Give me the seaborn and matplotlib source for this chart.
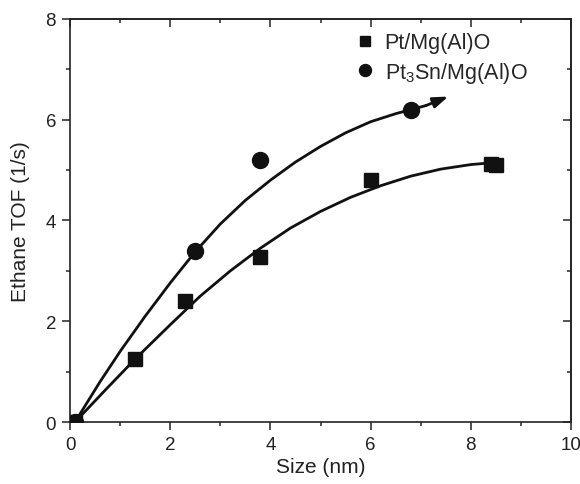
import matplotlib
matplotlib.use("Agg")
import matplotlib.pyplot as plt
import seaborn as sns
from matplotlib.ticker import MultipleLocator

# measured points
pt_size = [0.1, 1.3, 2.3, 3.8, 6.0, 8.4, 8.5]
pt_tof = [0.0, 1.25, 2.4, 3.27, 4.8, 5.12, 5.1]
pt3sn_size = [0.1, 2.5, 3.8, 6.8]
pt3sn_tof = [0.0, 3.4, 5.2, 6.2]

# fitted trend curves
pt_curve_x = [0.1, 0.7, 1.3, 2.0, 2.6, 3.2, 3.8, 4.4, 5.0, 5.6, 6.2, 6.8, 7.4, 8.0, 8.35]
pt_curve_y = [0.0, 0.63, 1.25, 1.93, 2.5, 3.0, 3.45, 3.85, 4.18, 4.46, 4.69, 4.88, 5.02, 5.11, 5.14]
pt3sn_curve_x = [0.1, 0.6, 1.0, 1.5, 2.0, 2.5, 3.0, 3.5, 4.0, 4.5, 5.0, 5.5, 6.0, 6.5, 6.8, 7.1]
pt3sn_curve_y = [0.0, 0.8, 1.4, 2.1, 2.76, 3.38, 3.93, 4.4, 4.8, 5.16, 5.47, 5.74, 5.96, 6.12, 6.2, 6.28]
arrow_start = (7.1, 6.28)
arrow_end = (7.55, 6.46)

labels = ["Pt/Mg(Al)O", "Pt$_3$Sn/Mg(Al)O"]
x_ticks = [0, 2, 4, 6, 8, 10]
y_ticks = [0, 2, 4, 6, 8]

sns.set_style("ticks")
plt.rcParams["font.family"] = ["Liberation Sans", "DejaVu Sans"]
plt.rcParams["mathtext.default"] = "regular"

fig = plt.figure(figsize=(5.8, 4.85), dpi=100)
ax = fig.add_axes([0.1207, 0.1278, 0.8638, 0.831])

col = "#111111"
sns.lineplot(x=pt_curve_x, y=pt_curve_y, ax=ax, color=col, lw=2.0, sort=False, zorder=2)
sns.lineplot(x=pt3sn_curve_x, y=pt3sn_curve_y, ax=ax, color=col, lw=2.0, sort=False, zorder=2)
ax.annotate("", xy=arrow_end, xytext=arrow_start,
            arrowprops=dict(arrowstyle="-|>,head_length=0.9,head_width=0.32", color=col, lw=2.0,
                            shrinkA=0, shrinkB=0))

ax.plot(pt3sn_size, pt3sn_tof, linestyle="none", marker="o", ms=11.5, color=col, mec=col,
        label=labels[1], zorder=3)
ax.plot(pt_size, pt_tof, linestyle="none", marker="s", ms=10.5, color=col, mec=col,
        label=labels[0], zorder=4)

ax.set_xlim(0, 10)
ax.set_ylim(0, 8)
ax.set_xticks(x_ticks)
ax.set_yticks(y_ticks)
ax.xaxis.set_minor_locator(MultipleLocator(1))
ax.yaxis.set_minor_locator(MultipleLocator(1))
ax.tick_params(axis="both", which="major", length=6, width=1.1, labelsize=13.5, colors="#222",
               direction="out", top=False, right=False, pad=4)
ax.tick_params(axis="both", which="minor", length=3, width=1.1, direction="out")

sec_x = ax.secondary_xaxis("top")
sec_x.set_xticks(x_ticks)
sec_x.xaxis.set_minor_locator(MultipleLocator(1))
sec_x.tick_params(which="major", direction="in", length=6, width=1.1, labeltop=False)
sec_x.tick_params(which="minor", direction="in", length=3, width=1.1)
sec_x.set_xticklabels([])
sec_y = ax.secondary_yaxis("right")
sec_y.set_yticks(y_ticks)
sec_y.yaxis.set_minor_locator(MultipleLocator(1))
sec_y.tick_params(which="major", direction="in", length=6, width=1.1)
sec_y.tick_params(which="minor", direction="in", length=3, width=1.1)
sec_y.set_yticklabels([])

for sp in ax.spines.values():
    sp.set_linewidth(1.2)
    sp.set_color("#222")
for s in [sec_x, sec_y]:
    for sp in s.spines.values():
        sp.set_linewidth(1.2)

ax.set_xlabel("Size (nm)", fontsize=15, color="#222", labelpad=3)
ax.set_ylabel("Ethane TOF (1/s)", fontsize=15, color="#222", labelpad=11)

h, l = ax.get_legend_handles_labels()
order = [1, 0]
leg = ax.legend([h[i] for i in order], [l[i] for i in order], loc="upper left",
                bbox_to_anchor=(0.525, 1.015), frameon=False, fontsize=15.5, markerscale=0.75,
                handletextpad=0.3, labelspacing=0.3, handlelength=1.2)

fig.savefig("out.png", dpi=100)
